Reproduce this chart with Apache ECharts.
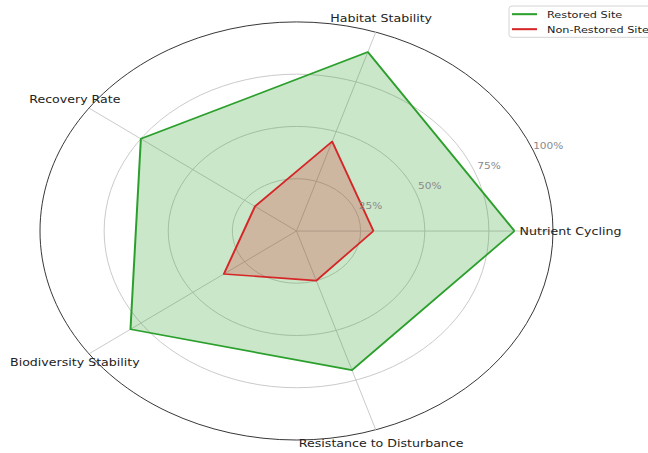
<!DOCTYPE html>
<html>
<head>
<meta charset="utf-8">
<script src="https://cdn.jsdelivr.net/npm/echarts@6/dist/echarts.min.js"></script>
<style>
html, body { margin: 0; padding: 0; background: #fff; overflow: hidden; width: 648px; height: 453px; }
#chart { width: 648px; height: 556px; transform: scaleY(0.815); transform-origin: 0 0; }
</style>
</head>
<body>
<div id="chart"></div>
<script>
// Data
const categories = ['Nutrient Cycling', 'Habitat Stability', 'Recovery Rate', 'Biodiversity Stability', 'Resistance to Disturbance'];
const restoredSite = [85, 90, 75, 80, 70];
const nonRestoredSite = [30, 45, 20, 35, 25];
const seriesNames = ['Restored Site', 'Non-Restored Site'];
const radialTicks = [25, 50, 75, 100];
const radialMax = 100;

const chart = echarts.init(document.getElementById('chart'), null, { renderer: 'svg' });
const FONT = 'DejaVu Sans';
const CX = 296.5, CY = 283.4, R = 256.5;

const option = {
  animation: false,
  backgroundColor: '#ffffff',
  legend: {
    data: seriesNames,
    orient: 'vertical',
    left: 509,
    top: 7.4,
    padding: [3, 8, 3, 3],
    itemGap: 4.4,
    itemWidth: 25,
    itemHeight: 2.5,
    icon: 'rect',
    borderColor: '#d0d0d0',
    borderWidth: 1,
    borderRadius: 3,
    backgroundColor: '#ffffff',
    textStyle: { fontFamily: FONT, fontSize: 11.3, color: '#222', lineHeight: 14, padding: [0, 0, 0, 5] }
  },
  radar: {
    center: [CX, CY],
    radius: R,
    startAngle: 0,
    shape: 'circle',
    splitNumber: radialTicks.length,
    indicator: categories.map(n => ({ name: n, min: 0, max: radialMax })),
    axisName: {
      color: '#222',
      fontFamily: FONT,
      fontSize: 12.6,
      align: 'center',
      verticalAlign: 'middle'
    },
    nameGap: 17.5,
    axisLine: { lineStyle: { color: '#c4c4c4', width: 1 } },
    splitLine: { lineStyle: { color: ['#c4c4c4', '#c4c4c4', '#c4c4c4', '#c4c4c4', '#222222'], width: 1 } },
    splitArea: { show: false },
    axisTick: { show: false },
    axisLabel: { show: false }
  },
  polar: {
    center: [CX, CY],
    radius: [16, R + 16]
  },
  angleAxis: {
    startAngle: 22.5,
    min: 0, max: 360,
    show: false
  },
  radiusAxis: {
    min: 0,
    max: radialMax,
    interval: 25,
    axisLine: { show: false },
    axisTick: { show: false },
    splitLine: { show: false },
    axisLabel: {
      margin: 0,
      align: 'center',
      verticalAlign: 'middle',
      color: '#8a8a8a',
      fontFamily: FONT,
      fontSize: 10.6,
      formatter: v => (radialTicks.indexOf(v) >= 0 ? v + '%' : '')
    },
    z: 5
  },
  series: [
    {
      name: seriesNames[0],
      type: 'radar',
      symbol: 'none',
      itemStyle: { color: '#2ca02c' },
      lineStyle: { color: '#2ca02c', width: 2 },
      areaStyle: { color: '#2ca02c', opacity: 0.25 },
      data: [{ value: restoredSite, name: seriesNames[0] }]
    },
    {
      name: seriesNames[1],
      type: 'radar',
      symbol: 'none',
      itemStyle: { color: '#d62728' },
      lineStyle: { color: '#d62728', width: 2 },
      areaStyle: { color: '#d62728', opacity: 0.25 },
      data: [{ value: nonRestoredSite, name: seriesNames[1] }]
    }
  ]
};
chart.setOption(option);
</script>
</body>
</html>
